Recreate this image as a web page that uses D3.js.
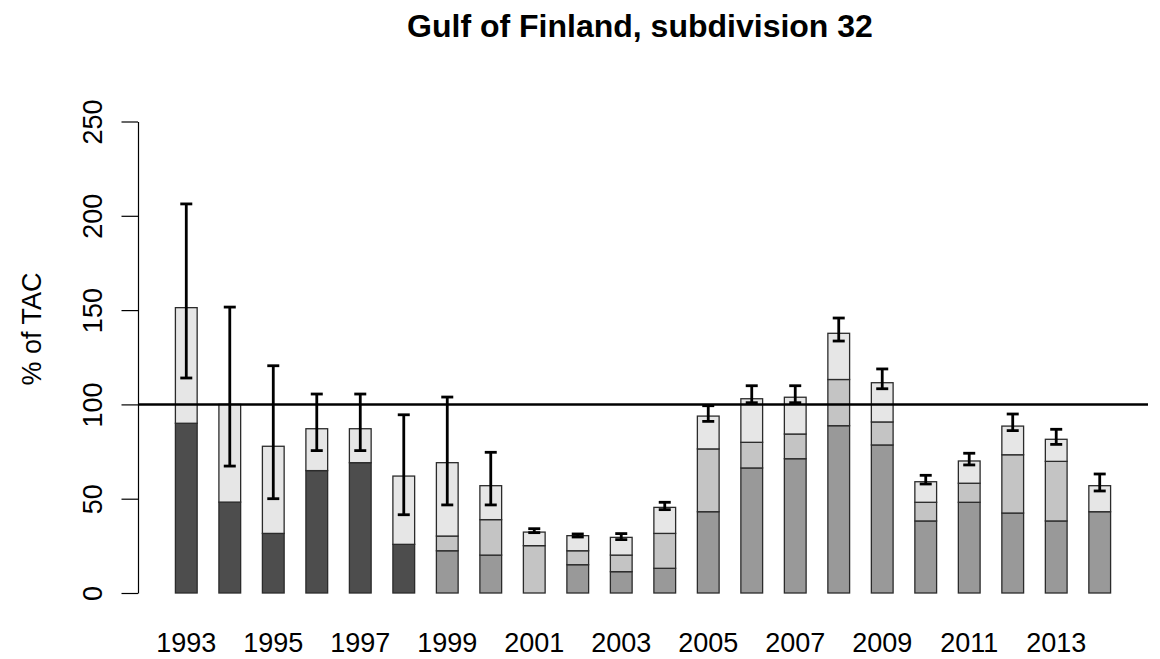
<!DOCTYPE html>
<html>
<head>
<meta charset="utf-8">
<script src="https://cdn.jsdelivr.net/npm/d3@7"></script>
<style>
    body { margin: 0; background: #fff; }
    text { font-family: 'Liberation Sans', Arial, sans-serif; fill: #000; }
</style>
</head>
<body>
<div class="content"></div>
<script>
var width = 1160
var height = 659

// data (% of TAC)
var years = [1993, 1994, 1995, 1996, 1997, 1998, 1999, 2000, 2001, 2002, 2003,
    2004, 2005, 2006, 2007, 2008, 2009, 2010, 2011, 2012, 2013, 2014]
var darkPart = [90.0, 48.2, 31.6, 64.9, 69.1, 25.8, 0, 0, 0, 0, 0,
    0, 0, 0, 0, 0, 0, 0, 0, 0, 0, 0]
var midPart = [0, 0, 0, 0, 0, 0, 22.4, 20.1, 0, 15.0, 11.3,
    13.1, 43.1, 66.3, 71.2, 88.7, 78.5, 38.2, 48.1, 42.4, 38.2, 43.1]
var lightPart = [0, 0, 0, 0, 0, 0, 7.8, 18.8, 25.1, 7.4, 8.8,
    18.5, 33.3, 13.6, 13.1, 24.5, 12.2, 9.9, 10.1, 30.9, 31.6, 0]
var topPart = [61.3, 51.8, 46.2, 22.2, 18.0, 36.2, 38.9, 18.0, 7.2, 8.0, 9.4,
    13.8, 17.4, 23.1, 19.5, 24.5, 20.8, 10.9, 11.8, 15.2, 11.7, 13.8]
var errLow = [114.0, 67.3, 50.0, 75.5, 75.5, 41.5, 46.7, 46.7, 32.0, 29.7, 28.3,
    44.2, 91.0, 100.9, 100.9, 133.6, 108.3, 57.8, 67.9, 86.1, 78.8, 54.1]
var errHigh = [206.3, 151.6, 120.5, 105.5, 105.5, 94.5, 103.9, 74.6, 34.1, 31.3, 31.5,
    48.1, 99.3, 109.9, 109.9, 145.8, 118.8, 62.4, 74.1, 94.9, 86.8, 63.1]
var yTicks = [0, 50, 100, 150, 200, 250]
var labelYears = [1993, 1995, 1997, 1999, 2001, 2003, 2005, 2007, 2009, 2011, 2013]

var keys = ['dark', 'mid', 'light', 'top']
var fills = { dark: '#4d4d4d', mid: '#999999', light: '#c4c4c4', top: '#e6e6e6' }

var rows = years.map(function(y, i) {
    return { year: y, dark: darkPart[i], mid: midPart[i], light: lightPart[i], top: topPart[i],
        lo: errLow[i], hi: errHigh[i] }
})

var x = d3.scaleBand()
    .domain(years)
    .range([138, 1148])
    .paddingInner(0.5)
    .paddingOuter(0.86)

var y = d3.scaleLinear()
    .domain([0, 250])
    .range([593, 121.5])

var svg = d3.select('.content').append('svg')
    .attr('width', width)
    .attr('height', height)

var series = d3.stack().keys(keys)(rows)

svg.append('g')
    .selectAll('g')
    .data(series)
    .enter().append('g')
    .style('fill', function(d) { return fills[d.key] })
    .selectAll('rect')
    .data(function(d) { return d.filter(function(p) { return p[1] - p[0] > 0 }) })
    .enter().append('rect')
    .attr('x', function(d) { return x(d.data.year) })
    .attr('width', x.bandwidth())
    .attr('y', function(d) { return y(d[1]) })
    .attr('height', function(d) { return y(d[0]) - y(d[1]) })
    .style('stroke', '#2b2b2b')
    .style('stroke-width', 1.3)

// reference line at 100%
svg.append('line')
    .attr('x1', 138)
    .attr('x2', 1148)
    .attr('y1', y(100))
    .attr('y2', y(100))
    .style('stroke', '#000')
    .style('stroke-width', 2.5)

// error bars
var err = svg.append('g')
    .selectAll('g')
    .data(rows)
    .enter().append('g')
    .style('stroke', '#000')
    .style('stroke-width', 2.8)

err.append('line')
    .attr('x1', function(d) { return x(d.year) + x.bandwidth() / 2 })
    .attr('x2', function(d) { return x(d.year) + x.bandwidth() / 2 })
    .attr('y1', function(d) { return y(d.lo) })
    .attr('y2', function(d) { return y(d.hi) })

err.selectAll('.cap')
    .data(function(d) { return [d.lo, d.hi].map(function(v) { return { year: d.year, v: v } }) })
    .enter().append('line')
    .attr('class', 'cap')
    .attr('x1', function(d) { return x(d.year) + x.bandwidth() / 2 - 6 })
    .attr('x2', function(d) { return x(d.year) + x.bandwidth() / 2 + 6 })
    .attr('y1', function(d) { return y(d.v) })
    .attr('y2', function(d) { return y(d.v) })

// y axis
var yAxis = svg.append('g')
    .attr('transform', 'translate(138,0)')
    .call(d3.axisLeft(y).tickValues(yTicks).tickSize(16.5).tickSizeOuter(0).tickPadding(0))

yAxis.select('.domain').style('stroke', '#000').style('stroke-width', 1.2)
yAxis.selectAll('.tick line').style('stroke', '#000').style('stroke-width', 1.2)
yAxis.selectAll('.tick text')
    .attr('x', null)
    .attr('dy', null)
    .attr('transform', 'translate(-36,0) rotate(-90)')
    .attr('text-anchor', 'middle')
    .style('font-size', '27px')
    .style('font-family', "'Liberation Sans', Arial, sans-serif")

// x labels
svg.append('g')
    .selectAll('text')
    .data(labelYears)
    .enter().append('text')
    .attr('x', function(d) { return x(d) + x.bandwidth() / 2 })
    .attr('y', 652)
    .attr('text-anchor', 'middle')
    .style('font-size', '27px')
    .text(function(d) { return d })

svg.append('text')
    .attr('transform', 'translate(41,329) rotate(-90)')
    .attr('text-anchor', 'middle')
    .style('font-size', '27px')
    .text('% of TAC')

svg.append('text')
    .attr('x', 640)
    .attr('y', 37)
    .attr('text-anchor', 'middle')
    .style('font-size', '32px')
    .style('font-weight', 'bold')
    .text('Gulf of Finland, subdivision 32')
</script>
</body>
</html>
